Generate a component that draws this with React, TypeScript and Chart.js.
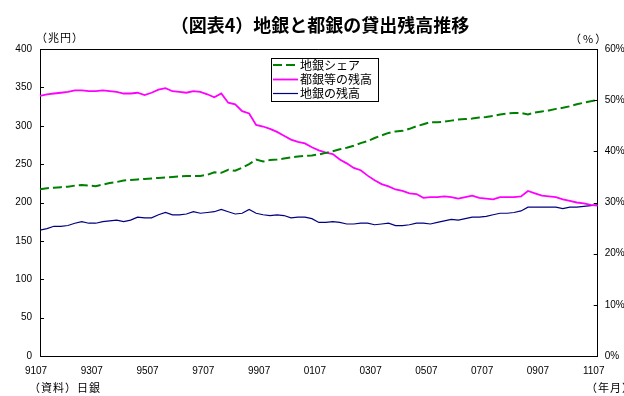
import React, { useEffect, useRef } from "react";
import { Chart, registerables } from "chart.js";

Chart.register(...registerables);

// Quarterly periods (YYMM)
const periods = [
  "9107", "9110",
  "9201", "9204", "9207", "9210",
  "9301", "9304", "9307", "9310",
  "9401", "9404", "9407", "9410",
  "9501", "9504", "9507", "9510",
  "9601", "9604", "9607", "9610",
  "9701", "9704", "9707", "9710",
  "9801", "9804", "9807", "9810",
  "9901", "9904", "9907", "9910",
  "0001", "0004", "0007", "0010",
  "0101", "0104", "0107", "0110",
  "0201", "0204", "0207", "0210",
  "0301", "0304", "0307", "0310",
  "0401", "0404", "0407", "0410",
  "0501", "0504", "0507", "0510",
  "0601", "0604", "0607", "0610",
  "0701", "0704", "0707", "0710",
  "0801", "0804", "0807", "0810",
  "0901", "0904", "0907", "0910",
  "1001", "1004", "1007", "1010",
  "1101", "1104", "1107",
];

const xTickLabels = ["9107", "9307", "9507", "9707", "9907", "0107", "0307", "0507", "0707", "0907", "1107"];

// 地銀シェア (%), right axis
const chiginShare = [
  32.6, 32.8, 32.9, 33.0, 33.1, 33.3, 33.4, 33.3, 33.2, 33.5,
  33.8, 34.0, 34.3, 34.4, 34.5, 34.6, 34.7, 34.8, 34.9, 35.0,
  35.1, 35.2, 35.2, 35.2, 35.4, 35.9, 35.8, 36.4, 36.2, 36.8,
  37.5, 38.4, 38.0, 38.3, 38.4, 38.6, 38.8, 39.0, 39.1, 39.2,
  39.4, 39.7, 40.0, 40.4, 40.7, 41.1, 41.6, 42.0, 42.6, 43.1,
  43.6, 43.9, 44.0, 44.4, 44.9, 45.3, 45.7, 45.7, 45.8, 46.0,
  46.2, 46.3, 46.4, 46.6, 46.7, 46.9, 47.2, 47.4, 47.5, 47.5,
  47.2, 47.6, 47.8, 48.0, 48.3, 48.5, 48.8, 49.2, 49.5, 49.8,
  50.0,
];

// 都銀等の残高 (兆円)
const tohginBalance = [
  339, 341, 342, 343, 344, 346, 346, 345, 345, 346,
  345, 344, 342, 342, 343, 340, 343, 347, 349, 345,
  344, 343, 345, 344, 341, 337, 342, 330, 328, 319,
  316, 301, 299, 296, 292, 287, 282, 279, 277, 272,
  268, 265, 263, 256, 251, 245, 242, 235, 229, 224,
  221, 217, 215, 212, 211, 206, 207, 207, 208, 207,
  205, 207, 209, 206, 205, 204, 207, 207, 207, 208,
  215, 212, 209, 208, 207, 204, 202, 200, 199, 197,
  196,
];

// 地銀の残高 (兆円)
const chiginBalance = [
  164, 166, 169, 169, 170, 173, 175, 173, 173, 175,
  176, 177, 175, 177, 181, 180, 180, 184, 187, 184,
  184, 185, 188, 186, 187, 188, 191, 188, 185, 186,
  191, 186, 184, 183, 184, 183, 180, 181, 181, 179,
  174, 174, 175, 174, 172, 172, 173, 173, 171, 172,
  173, 170, 170, 171, 173, 173, 172, 174, 176, 178,
  177, 179, 181, 181, 182, 184, 186, 186, 187, 189,
  194, 194, 194, 194, 194, 192, 194, 194, 195, 196,
  197,
];

const leftTicks = [0, 50, 100, 150, 200, 250, 300, 350, 400];
const rightTicks = [0, 10, 20, 30, 40, 50, 60];

const JP = '"Noto Sans CJK JP", "Noto Sans", sans-serif';
const NUM = '"Liberation Sans Narrow", "Liberation Sans", Arial, sans-serif';

const overlayPlugin = {
  id: "overlay",
  afterDraw(chart: any) {
    const ctx = chart.ctx as CanvasRenderingContext2D;
    const ca = chart.chartArea;
    const ys = chart.scales.y;
    const y1 = chart.scales.y1;
    ctx.save();
    // top border
    ctx.strokeStyle = "#000";
    ctx.lineWidth = 1;
    ctx.beginPath();
    ctx.moveTo(ca.left, Math.round(ca.top) + 0.5);
    ctx.lineTo(ca.right, Math.round(ca.top) + 0.5);
    ctx.stroke();
    // inner tick marks
    ctx.beginPath();
    leftTicks.forEach((v) => {
      const py = Math.round(ys.getPixelForValue(v)) + 0.5;
      ctx.moveTo(ca.left, py);
      ctx.lineTo(ca.left + 4, py);
    });
    rightTicks.forEach((v) => {
      const py = Math.round(y1.getPixelForValue(v)) + 0.5;
      ctx.moveTo(ca.right, py);
      ctx.lineTo(ca.right - 4, py);
    });
    ctx.stroke();

    // title
    ctx.fillStyle = "#000";
    ctx.textBaseline = "middle";
    ctx.textAlign = "center";
    ctx.font = `bold 18px ${JP}`;
    ctx.fillText("（図表4）地銀と都銀の貸出残高推移", 320, 25);

    // unit labels and notes
    ctx.textAlign = "left";
    ctx.font = `11px ${JP}`;
    (ctx as any).letterSpacing = "1px";
    ctx.fillText("（兆円）", 36, 38);
    ctx.fillText("（資料）日銀", 29, 388);
    ctx.fillText("（年月）", 586, 388);
    (ctx as any).letterSpacing = "2px";
    ctx.fillText("（%）", 570, 39);
    (ctx as any).letterSpacing = "0px";

    // legend
    const lx = 271, ly = 58, lw = 107, lh = 43;
    ctx.fillStyle = "#fff";
    ctx.fillRect(lx, ly, lw, lh);
    ctx.strokeStyle = "#000";
    ctx.lineWidth = 1;
    ctx.strokeRect(lx + 0.5, ly + 0.5, lw, lh);
    const rows = [65, 79.5, 93.5];
    chart.data.datasets.forEach((ds: any, i: number) => {
      const ry = rows[i];
      ctx.strokeStyle = ds.borderColor;
      ctx.lineWidth = ds.borderWidth;
      ctx.setLineDash(ds.borderDash || []);
      ctx.beginPath();
      ctx.moveTo(273, ry);
      ctx.lineTo(298, ry);
      ctx.stroke();
      ctx.setLineDash([]);
      ctx.fillStyle = "#000";
      ctx.font = `12px ${JP}`;
      ctx.textAlign = "left";
      ctx.textBaseline = "middle";
      ctx.fillText(ds.label, 300, ry);
    });
    ctx.restore();
  },
};

export default function App() {
  const ref = useRef<HTMLCanvasElement | null>(null);

  useEffect(() => {
    if (!ref.current) return;
    const chart = new Chart(ref.current, {
      type: "line",
      data: {
        labels: periods,
        datasets: [
          {
            label: "地銀シェア",
            data: chiginShare,
            yAxisID: "y1",
            borderColor: "#008000",
            backgroundColor: "#008000",
            borderWidth: 2,
            borderDash: [9, 4],
            pointRadius: 0,
            tension: 0,
          },
          {
            label: "都銀等の残高",
            data: tohginBalance,
            yAxisID: "y",
            borderColor: "#FF00FF",
            backgroundColor: "#FF00FF",
            borderWidth: 1.8,
            pointRadius: 0,
            tension: 0,
          },
          {
            label: "地銀の残高",
            data: chiginBalance,
            yAxisID: "y",
            borderColor: "#000080",
            backgroundColor: "#000080",
            borderWidth: 1.2,
            pointRadius: 0,
            tension: 0,
          },
        ],
      },
      options: {
        animation: false,
        responsive: false,
        maintainAspectRatio: false,
        devicePixelRatio: 1,
        layout: { padding: { top: 49, left: 0, right: 0, bottom: 0 } },
        plugins: {
          legend: { display: false },
          title: { display: false },
          tooltip: { enabled: false },
        },
        scales: {
          x: {
            type: "category",
            offset: false,
            grid: { display: false, drawTicks: false },
            border: { display: true, color: "#000", width: 1 },
            ticks: {
              autoSkip: false,
              maxRotation: 0,
              minRotation: 0,
              padding: 9,
              labelOffset: -4,
              color: "#000",
              font: { family: NUM, size: 10 },
              callback: (_v: any, index: number) =>
                xTickLabels.includes(periods[index]) ? periods[index] : "",
            },
            afterFit: (s: any) => {
              s.height = 40;
            },
          },
          y: {
            position: "left",
            min: 0,
            max: 400,
            grid: { display: false, drawTicks: false },
            border: { display: true, color: "#000", width: 1 },
            ticks: {
              stepSize: 50,
              padding: 8,
              color: "#000",
              font: { family: NUM, size: 10 },
            },
            afterFit: (s: any) => {
              s.width = 40;
            },
          },
          y1: {
            position: "right",
            min: 0,
            max: 60,
            grid: { display: false, drawTicks: false },
            border: { display: true, color: "#000", width: 1 },
            ticks: {
              stepSize: 10,
              padding: 7,
              color: "#000",
              font: { family: NUM, size: 10 },
              callback: (v: any) => `${v}%`,
            },
            afterFit: (s: any) => {
              s.width = 26.3;
            },
          },
        },
      },
      plugins: [overlayPlugin],
    });
    return () => chart.destroy();
  }, []);

  return (
    <div style={{ position: "absolute", left: 0, top: 0, width: 624, height: 396, background: "#fff" }}>
      <canvas ref={ref} width={624} height={396} style={{ width: 624, height: 396, display: "block" }} />
    </div>
  );
}
